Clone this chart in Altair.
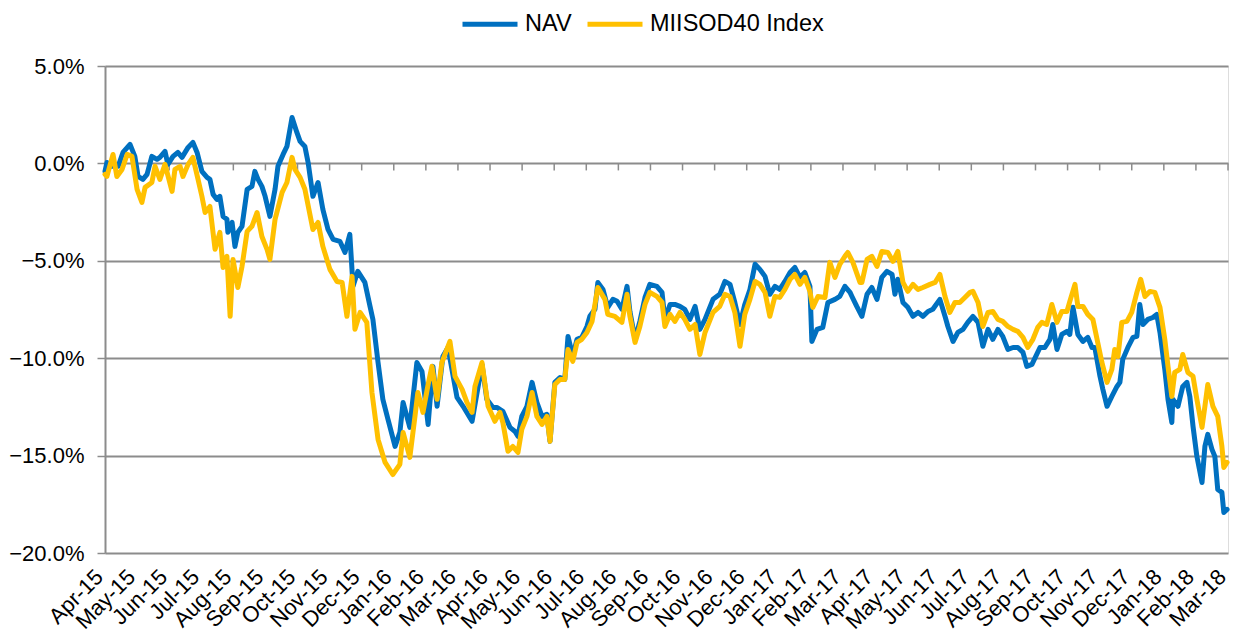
import altair as alt
import pandas as pd

# Month labels along the x axis (index 0 .. 35)
months = ["Apr-15", "May-15", "Jun-15", "Jul-15", "Aug-15", "Sep-15", "Oct-15", "Nov-15",
          "Dec-15", "Jan-16", "Feb-16", "Mar-16", "Apr-16", "May-16", "Jun-16", "Jul-16",
          "Aug-16", "Sep-16", "Oct-16", "Nov-16", "Dec-16", "Jan-17", "Feb-17", "Mar-17",
          "Apr-17", "May-17", "Jun-17", "Jul-17", "Aug-17", "Sep-17", "Oct-17", "Nov-17",
          "Dec-17", "Jan-18", "Feb-18", "Mar-18"]

# NAV series: time in months since Apr-15, cumulative return in %
nav_t = [0.00, 0.06, 0.22, 0.41, 0.56, 0.78, 0.93, 1.03, 1.18, 1.31, 1.46, 1.62, 1.71, 1.87, 1.96,
         2.12, 2.27, 2.40, 2.59, 2.74, 2.87, 3.02, 3.18, 3.27, 3.37, 3.49, 3.58, 3.68, 3.80, 3.83,
         3.96, 4.05, 4.14, 4.27, 4.43, 4.58, 4.67, 4.77, 4.89, 4.99, 5.14, 5.30, 5.39, 5.55, 5.67,
         5.83, 5.98, 6.08, 6.23, 6.33, 6.48, 6.64, 6.79, 6.95, 7.11, 7.32, 7.48, 7.63, 7.73, 7.88,
         8.10, 8.26, 8.35, 8.51, 8.66, 8.82, 9.04, 9.19, 9.29, 9.50, 9.72, 9.88, 10.07, 10.22, 10.35,
         10.53, 10.69, 10.97, 11.16, 11.44, 11.75, 11.90, 12.09, 12.22, 12.40, 12.62, 12.78, 12.87,
         12.99, 13.15, 13.31, 13.46, 13.62, 13.77, 13.87, 14.02, 14.18, 14.33, 14.43, 14.58, 14.71,
         14.86, 15.02, 15.11, 15.27, 15.36, 15.52, 15.67, 15.83, 15.96, 16.11, 16.27, 16.36, 16.52,
         16.67, 16.83, 16.98, 17.20, 17.36, 17.45, 17.61, 17.76, 17.92, 18.07, 18.23, 18.39, 18.54,
         18.70, 18.95, 19.16, 19.32, 19.48, 19.63, 19.79, 19.94, 20.10, 20.26, 20.41, 20.57, 20.72,
         20.88, 21.03, 21.19, 21.35, 21.50, 21.66, 21.81, 21.97, 22.03, 22.19, 22.37, 22.53, 22.75,
         22.90, 23.06, 23.22, 23.28, 23.43, 23.59, 23.75, 23.90, 24.06, 24.21, 24.37, 24.53, 24.62,
         24.71, 24.87, 25.02, 25.18, 25.34, 25.49, 25.65, 25.80, 26.02, 26.18, 26.27, 26.43, 26.58,
         26.74, 26.89, 27.05, 27.21, 27.36, 27.52, 27.67, 27.83, 27.98, 28.14, 28.30, 28.45, 28.61,
         28.73, 28.89, 29.14, 29.29, 29.45, 29.54, 29.67, 29.82, 29.98, 30.07, 30.17, 30.32, 30.48,
         30.63, 30.76, 30.85, 31.01, 31.10, 31.23, 31.38, 31.54, 31.63, 31.72, 31.88, 32.04, 32.16,
         32.25, 32.35, 32.50, 32.66, 32.78, 32.88, 33.03, 33.13, 33.25, 33.28, 33.44, 33.59, 33.72,
         33.81, 33.91, 34.03, 34.19, 34.28, 34.37, 34.50, 34.59, 34.68, 34.81, 34.87, 34.97]
nav_v = [-0.41, 0.05, -0.15, -0.15, 0.56, 0.98, 0.36, -0.67, -0.82, -0.56, 0.36, 0.21, 0.31, 0.62, -0.05,
         0.36, 0.56, 0.31, 0.82, 1.08, 0.56, -0.41, -0.72, -0.82, -1.59, -1.85, -1.69, -2.72, -2.87, -3.54,
         -3.03, -4.26, -3.54, -3.23, -1.33, -1.18, -0.41, -0.82, -1.18, -1.69, -2.72, -1.33, -0.15, 0.46, 0.87,
         2.36, 1.59, 1.13, 0.87, 0.05, -1.69, -0.98, -2.36, -3.39, -3.90, -4.00, -4.57, -3.64, -6.31, -5.54,
         -6.11, -7.34, -8.01, -10.22, -12.11, -13.14, -14.53, -13.81, -12.27, -13.55, -10.22, -10.68, -13.40, -10.42, -12.47,
         -9.91, -9.45, -12.01, -12.47, -13.24, -10.32, -12.11, -12.53, -12.53, -12.73, -13.55, -13.76, -14.01,
         -12.99, -12.47, -11.24, -12.27, -12.99, -12.88, -14.27, -11.24, -10.99, -11.09, -8.88, -9.91, -9.03,
         -8.93, -8.37, -7.85, -7.49, -6.11, -6.47, -7.39, -6.98, -7.08, -7.49, -6.31, -7.60, -9.03,
         -8.11, -6.88, -6.21, -6.31, -6.62, -8.01, -7.24, -7.24, -7.34, -7.49, -8.01, -7.34, -8.52,
         -8.01, -6.98, -6.72, -6.06, -6.21, -7.14, -8.27, -7.24, -6.47, -5.18, -5.44, -5.80, -6.72,
         -6.31, -6.47, -6.06, -5.60, -5.34, -5.85, -5.60, -6.31, -9.14, -8.52, -8.42, -7.14, -6.98,
         -6.83, -6.31, -6.62, -6.83, -7.34, -7.85, -6.72, -6.37, -6.98, -5.85, -5.54, -5.70, -6.72,
         -5.95, -7.14, -7.39, -7.85, -7.65, -7.85, -7.60, -7.49, -6.98, -7.85, -8.37, -9.14, -8.68,
         -8.52, -8.16, -7.85, -8.16, -9.39, -8.52, -9.03, -8.52, -8.88, -9.55, -9.45, -9.45, -9.70,
         -10.42, -10.32, -9.45, -9.45, -9.03, -8.27, -9.55, -8.78, -8.62, -8.78, -7.39, -8.78, -9.14,
         -8.93, -9.45, -9.45, -10.93, -11.60, -12.47, -11.96, -11.45, -11.24, -10.06, -9.45, -8.93, -8.88,
         -7.24, -8.27, -8.01, -7.91, -7.75, -8.68, -10.57, -12.11, -13.30, -12.11, -12.47, -11.45, -11.24,
         -11.96, -13.50, -15.04, -16.38, -14.53, -13.91, -14.68, -15.04, -16.74, -16.89, -17.92, -17.76]

# MIISOD40 Index series
idx_t = [0.00, 0.06, 0.25, 0.37, 0.53, 0.69, 0.84, 1.00, 1.15, 1.25, 1.46, 1.56, 1.71, 1.87, 2.09,
         2.18, 2.34, 2.43, 2.59, 2.74, 2.90, 3.02, 3.12, 3.27, 3.43, 3.58, 3.68, 3.80, 3.90, 3.99,
         4.14, 4.27, 4.43, 4.58, 4.74, 4.89, 5.05, 5.14, 5.30, 5.52, 5.67, 5.83, 5.92, 6.08, 6.23,
         6.48, 6.64, 6.79, 7.01, 7.23, 7.39, 7.54, 7.70, 7.79, 7.95, 8.16, 8.32, 8.51, 8.73, 8.97,
         9.19, 9.29, 9.50, 9.66, 9.75, 9.91, 10.07, 10.19, 10.35, 10.50, 10.75, 10.91, 11.13, 11.28,
         11.44, 11.53, 11.75, 11.94, 12.15, 12.31, 12.40, 12.56, 12.71, 12.87, 12.99, 13.15, 13.31,
         13.46, 13.62, 13.77, 13.87, 14.02, 14.18, 14.33, 14.43, 14.58, 14.71, 14.86, 15.02, 15.18,
         15.36, 15.58, 15.67, 15.89, 16.11, 16.27, 16.36, 16.52, 16.67, 16.83, 16.98, 17.20, 17.36,
         17.45, 17.61, 17.76, 17.92, 18.07, 18.23, 18.39, 18.54, 18.70, 18.95, 19.16, 19.32, 19.48,
         19.63, 19.79, 19.94, 20.10, 20.26, 20.41, 20.57, 20.72, 20.88, 21.03, 21.19, 21.35, 21.50,
         21.66, 21.81, 21.97, 22.06, 22.22, 22.44, 22.59, 22.75, 22.90, 23.06, 23.15, 23.31, 23.53,
         23.59, 23.75, 23.90, 24.06, 24.21, 24.40, 24.56, 24.71, 24.87, 25.02, 25.18, 25.34, 25.49,
         25.71, 25.87, 26.02, 26.18, 26.33, 26.49, 26.64, 26.80, 26.96, 27.05, 27.21, 27.36, 27.52,
         27.67, 27.83, 27.98, 28.14, 28.30, 28.45, 28.61, 28.76, 28.92, 29.07, 29.20, 29.35, 29.51,
         29.67, 29.82, 29.98, 30.07, 30.23, 30.32, 30.48, 30.63, 30.79, 30.94, 31.07, 31.23, 31.38,
         31.47, 31.57, 31.69, 31.85, 32.00, 32.16, 32.28, 32.41, 32.57, 32.72, 32.88, 33.03, 33.13,
         33.25, 33.34, 33.50, 33.59, 33.75, 33.91, 34.03, 34.19, 34.28, 34.37, 34.53, 34.68, 34.81,
         34.87, 34.97]
idx_v = [-0.56, -0.67, 0.46, -0.67, -0.31, 0.46, 0.36, -1.33, -2.00, -1.23, -0.98, -0.15, -0.82, -0.05, -1.44,
         -0.31, -0.15, -0.67, -0.05, 0.31, -0.82, -1.69, -2.52, -2.21, -4.41, -3.54, -5.34, -4.77, -7.85, -4.93,
         -6.37, -5.29, -3.49, -3.23, -2.52, -3.75, -4.41, -4.93, -2.87, -1.49, -0.98, 0.31, -0.31, -0.72, -1.33,
         -3.39, -3.03, -4.26, -5.44, -6.06, -6.11, -7.85, -5.80, -8.52, -7.65, -8.16, -11.76, -14.17, -15.35, -15.97,
         -15.45, -13.81, -15.09, -12.99, -11.76, -12.78, -11.35, -10.42, -12.11, -10.22, -9.14, -10.93, -11.60, -12.27,
         -12.78, -11.45, -10.22, -12.47, -13.24, -12.78, -13.30, -14.78, -14.53, -14.84, -13.65, -12.99, -11.76,
         -12.99, -13.40, -12.99, -14.27, -11.35, -11.09, -11.09, -9.55, -10.16, -9.19, -9.03, -8.68, -8.11,
         -6.37, -6.98, -7.75, -7.85, -8.16, -6.72, -7.85, -9.19, -8.37, -7.24, -6.62, -6.83, -7.14,
         -8.37, -7.75, -8.11, -7.65, -8.01, -8.52, -8.27, -9.81, -8.68, -7.65, -7.34, -6.72, -6.83,
         -7.65, -9.39, -7.75, -6.98, -6.06, -6.21, -6.62, -7.85, -6.83, -6.88, -6.47, -5.95, -5.70,
         -6.21, -5.85, -6.57, -7.39, -6.83, -6.88, -5.08, -5.85, -5.18, -4.77, -4.57, -5.08, -6.11,
         -6.11, -4.93, -4.77, -5.29, -4.52, -4.57, -5.03, -4.52, -6.11, -6.57, -6.21, -6.47, -6.37,
         -6.21, -6.11, -5.70, -6.83, -7.65, -7.14, -7.14, -6.88, -6.62, -6.57, -7.14, -8.37, -7.65,
         -7.60, -8.01, -8.11, -8.37, -8.52, -8.62, -8.93, -9.45, -9.03, -8.42, -8.16, -8.27, -7.24,
         -8.16, -7.60, -7.60, -7.08, -6.21, -7.34, -7.34, -7.75, -8.01, -9.19, -10.22, -11.24, -10.57,
         -9.55, -9.91, -8.16, -8.11, -7.65, -6.62, -5.95, -6.83, -6.57, -6.62, -7.39, -9.03, -10.42,
         -11.96, -10.73, -10.57, -9.81, -10.73, -10.93, -12.11, -13.55, -12.47, -11.35, -12.47, -12.99, -14.53,
         -15.61, -15.35]

y_ticks = [-20, -15, -10, -5, 0, 5]

series_names = ["NAV", "MIISOD40 Index"]
series_colors = ["#0070C0", "#FFC000"]

nav_df = pd.DataFrame({"t": nav_t, "v": nav_v, "series": series_names[0]})
idx_df = pd.DataFrame({"t": idx_t, "v": idx_v, "series": series_names[1]})
tick_df = pd.DataFrame({"t": list(range(len(months))), "y0": 0.0, "y1": -0.36})

FONT = "Liberation Sans"
GRID = "#8C8C8C"

label_array = "[" + ",".join("'" + m + "'" for m in months) + "]"

x_scale = alt.Scale(domain=[0, len(months) - 1], nice=False, zero=False)
y_scale = alt.Scale(domain=[-20, 5], nice=False, zero=False)

x_axis = alt.Axis(values=list(range(len(months))), labelExpr=label_array + "[datum.value]",
                  labelAngle=-45, labelAlign="right", labelBaseline="middle",
                  labelPadding=20, labelOffset=-6, labelOverlap=False, labelFlush=False,
                  labelBound=False, labelSeparation=0,
                  labelFont=FONT, labelFontSize=22, labelColor="#000000",
                  domain=False, ticks=False, grid=False, title=None)
y_axis = alt.Axis(values=y_ticks, labelExpr="format(datum.value, '.1f') + '%'",
                  labelFont=FONT, labelFontSize=22, labelColor="#000000", labelPadding=13,
                  labelOverlap=False,
                  tickSize=8, tickColor=GRID, tickWidth=1.5,
                  domain=True, domainColor=GRID, domainWidth=2,
                  grid=True, gridColor=GRID, gridWidth=2, title=None)

color_scale = alt.Scale(domain=series_names, range=series_colors)
legend = alt.Legend(title=None, orient="none", direction="horizontal", legendX=355, legendY=-72,
                    symbolType="stroke", symbolSize=3025, symbolStrokeWidth=5,
                    labelFont=FONT, labelFontSize=23.5, labelColor="#000000", labelLimit=0,
                    labelOffset=5, columnPadding=5, padding=0)

X = alt.X("t:Q", scale=x_scale, axis=x_axis)
Y = alt.Y("v:Q", scale=y_scale, axis=y_axis)

nav_line = alt.Chart(nav_df).mark_line(strokeWidth=5, strokeJoin="round", strokeCap="round").encode(
    x=X, y=Y,
    color=alt.Color("series:N", scale=color_scale, legend=legend),
)
idx_line = alt.Chart(idx_df).mark_line(strokeWidth=5, strokeJoin="round", strokeCap="round").encode(
    x=X, y=Y,
    color=alt.Color("series:N", scale=color_scale, legend=legend),
)
ticks = alt.Chart(tick_df).mark_rule(color=GRID, strokeWidth=1.5).encode(
    x=X,
    y=alt.Y("y0:Q", scale=y_scale, axis=y_axis),
    y2="y1:Q",
)

chart = alt.layer(ticks, nav_line, idx_line).properties(
    width=1123, height=487,
    autosize=alt.AutoSizeParams(type="none"),
    padding={"left": 97, "top": 58, "right": 3, "bottom": 80},
).configure_view(stroke=None).configure(background="#FFFFFF")

chart.save("out.html", embed_options={"renderer": "svg", "actions": False})
